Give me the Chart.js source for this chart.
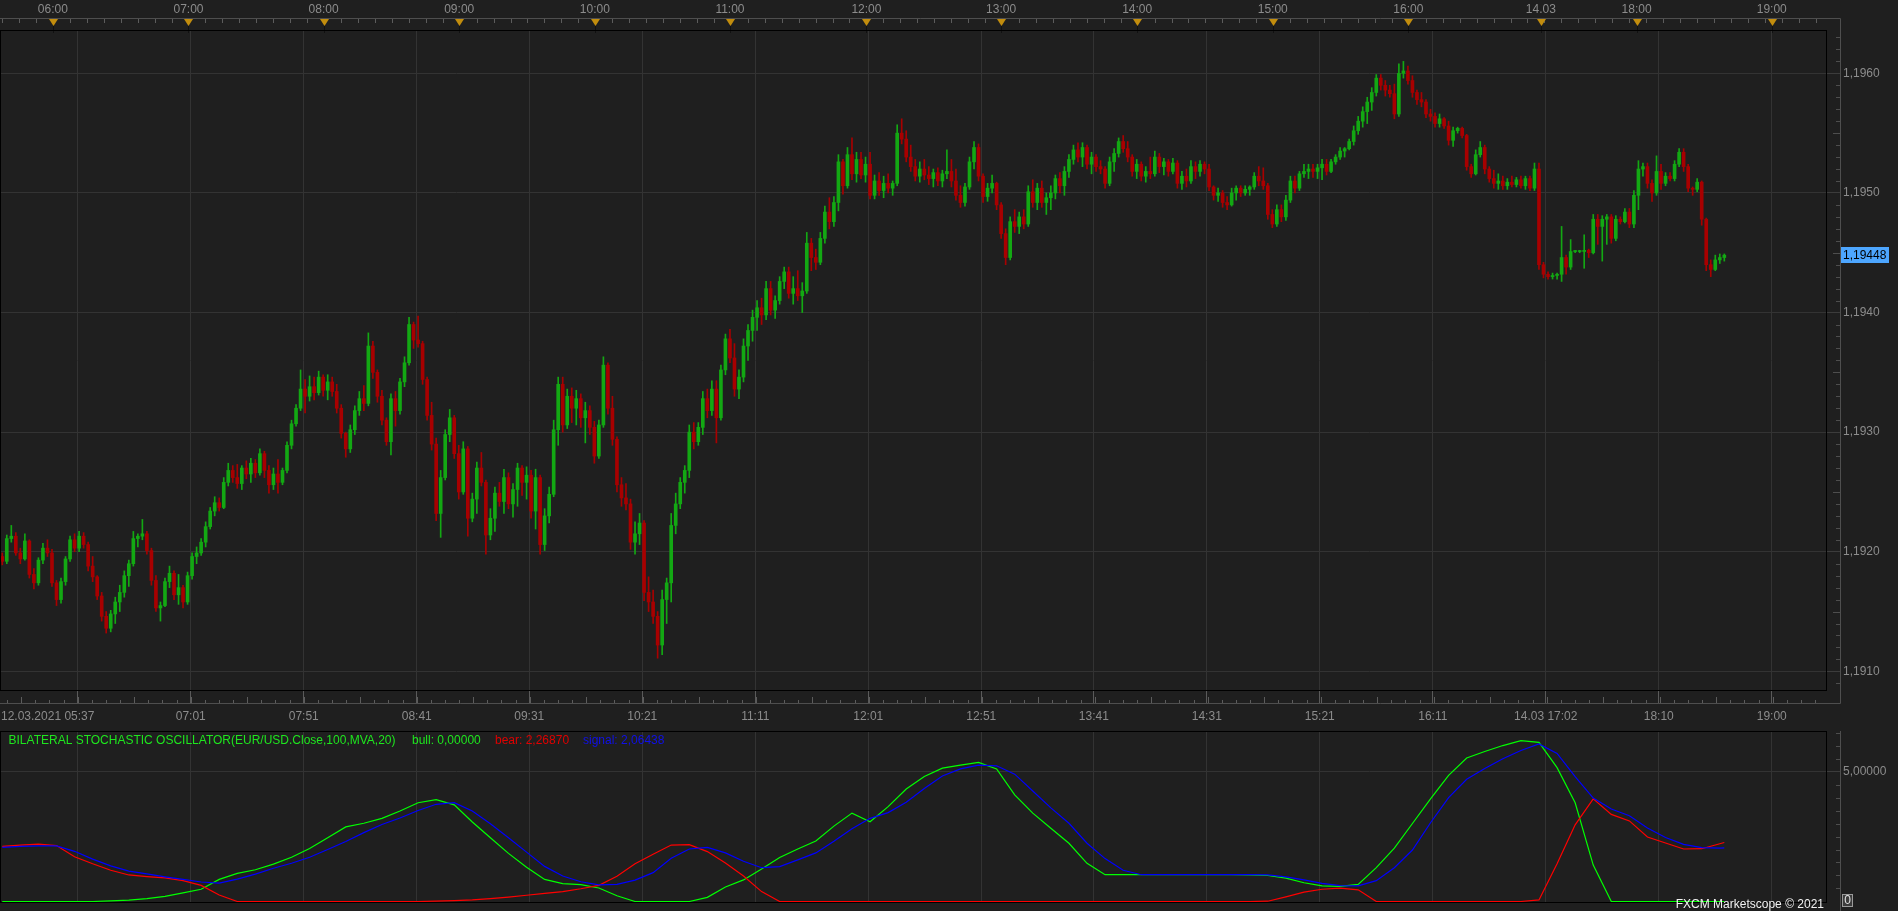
<!DOCTYPE html>
<html>
<head>
<meta charset="utf-8">
<title>EUR/USD - Bilateral Stochastic Oscillator</title>
<script src="https://cdn.jsdelivr.net/npm/chart.js@4.4.1/dist/chart.umd.min.js"></script>
<style>
  html, body { margin: 0; padding: 0; background: #1f1f1f; overflow: hidden; }
  #wrap { position: relative; width: 1898px; height: 911px; }
  #priceChart { position: absolute; left: 0; top: 0; }
  #oscChart { position: absolute; left: 0; top: 731px; }
</style>
</head>
<body>
<div id="wrap">
  <canvas id="priceChart" width="1898" height="731"></canvas>
  <canvas id="oscChart" width="1898" height="180"></canvas>
</div>
<script>
'use strict'
//////////////////
// Data
//////////////////
// EUR/USD candles (2 min each), values in points above 1,19000
const opens = [
  196,192,211,213,199,194,209,181,174,193, 203,199,174,160,175,194,210,203,213,206,
  188,179,163,146,136,148,158,166,180,190, 211,213,215,201,176,153,155,175,182,164,
  170,158,180,196,199,208,221,234,241,237, 258,268,262,257,270,265,274,266,282,268,
  256,265,258,268,289,307,320,336,330,338, 333,346,335,342,334,320,299,286,302,318,
  328,324,372,350,330,310,292,328,318,342, 358,390,377,374,344,314,290,232,262,298,
  312,282,250,286,228,244,270,258,214,228, 249,242,262,240,252,270,258,264,234,262,
  206,230,248,302,340,306,330,320,328,312, 318,304,280,306,356,320,294,256,245,240,
  208,215,224,166,158,146,122,160,174,222, 240,258,268,300,292,304,328,318,336,312,
  352,378,362,336,346,372,385,396,404,398, 420,402,410,426,434,416,420,414,418,458,
  446,442,462,484,476,492,526,506,532,516, 528,515,524,498,510,502,508,504,508,550,
  545,530,522,514,520,515,512,517,510,516, 518,510,498,492,505,526,538,514,497,504,
  508,490,466,446,476,472,480,474,501,492, 504,492,496,500,512,506,518,528,536,530,
  538,524,530,522,520,508,526,533,543,537, 530,518,524,514,518,516,530,522,526,518,
  525,508,514,510,522,518,524,520,505,498, 500,492,490,500,504,500,503,505,514,510,
  506,482,474,486,480,494,510,504,516,518, 520,518,521,524,518,526,530,535,537,543,
  552,560,568,576,584,596,590,586,583,566, 600,602,594,584,578,576,566,564,558,562,
  556,544,552,554,548,522,516,532,538,520, 512,508,510,506,509,507,511,506,512,504,
  520,440,432,430,431,432,446,438,451,451, 451,452,450,478,472,478,480,462,478,476,
  484,474,498,520,522,508,500,518,508,514, 512,524,534,522,504,503,509,478,440,436,
  444,446
];
const highs = [
  199,214,222,216,203,215,210,186,195,207, 210,202,176,178,196,213,215,217,216,208,
  196,180,166,150,151,162,172,184,193,217, 215,227,217,203,180,158,178,188,184,181,
  172,183,199,204,211,225,237,246,245,262, 274,272,273,272,276,278,277,286,284,272,
  270,277,270,292,310,323,352,344,347,346, 351,348,348,346,340,323,300,306,322,334,
  339,383,376,352,335,312,332,334,345,363, 396,392,397,376,346,325,295,268,302,319,
  314,289,292,288,249,275,283,260,236,254, 258,269,266,257,274,272,271,268,269,264,
  236,254,310,346,346,336,337,335,332,325, 322,309,310,363,358,330,296,262,257,244,
  225,232,226,179,168,150,168,178,232,249, 262,272,306,308,308,334,336,343,343,356,
  382,386,374,352,378,390,402,410,412,426, 426,414,430,438,438,430,435,425,467,462,
  453,467,489,496,497,532,528,538,546,534, 534,530,534,515,517,514,516,510,557,562,
  552,540,528,526,528,522,520,521,519,536, 528,520,506,508,530,543,541,516,508,515,
  509,492,470,480,486,484,486,506,511,508, 510,500,506,515,517,522,532,540,542,542,
  540,534,532,527,522,530,537,546,548,543, 532,528,526,522,530,535,533,529,528,529,
  527,518,520,527,526,527,526,524,506,504, 502,497,504,506,506,506,506,517,522,521,
  508,486,490,490,498,514,514,518,524,524, 524,524,528,528,528,532,538,538,545,556,
  564,572,580,588,599,599,594,590,591,608, 610,606,598,586,584,578,570,567,566,563,
  560,555,555,555,549,524,536,543,540,522, 519,516,514,512,514,513,514,514,514,525,
  525,442,434,433,433,472,448,461,452,452, 465,453,482,482,481,482,482,481,480,487,
  487,502,527,525,525,511,531,524,517,517, 527,537,537,524,505,512,510,479,444,448,
  449,449
];
const lows = [
  189,190,208,197,190,193,178,169,172,190, 196,171,155,157,172,192,200,200,203,184,
  175,160,142,132,133,140,150,162,171,188, 204,210,198,172,150,142,154,170,160,156,
  153,156,177,190,197,204,219,230,234,236, 255,258,253,252,261,258,262,264,262,249,
  252,249,256,266,286,305,318,316,326,327, 331,330,327,330,316,295,279,283,298,314,
  318,322,345,325,306,289,281,305,315,338, 356,370,371,340,310,285,226,212,260,292,
  278,244,248,213,225,232,255,198,210,217, 238,232,236,229,238,247,244,228,219,198,
  201,224,246,289,300,303,308,306,304,291, 298,274,278,304,315,289,250,238,235,202,
  198,206,159,150,140,111,114,140,158,215, 236,249,262,286,289,298,312,314,291,310,
  348,358,330,328,342,360,376,385,390,394, 398,395,407,420,412,407,410,400,416,435,
  436,440,458,470,472,485,499,504,511,509, 512,509,495,495,498,496,500,498,506,541,
  526,518,510,509,511,507,505,506,505,512, 505,494,488,489,503,520,510,492,493,500,
  486,462,440,444,467,466,470,472,488,486, 488,482,486,495,500,498,513,524,526,522,
  520,516,518,516,504,506,518,530,534,526, 514,512,510,509,512,514,517,515,514,516,
  504,503,505,508,512,514,516,502,494,493, 488,486,489,494,497,498,498,503,506,503,
  478,471,472,476,477,492,500,502,513,512, 513,512,511,515,517,524,528,530,536,540,
  549,555,558,569,581,586,581,580,562,564, 596,591,580,574,572,563,560,555,555,554,
  540,539,550,546,519,513,515,530,516,509, 504,503,503,503,505,505,504,503,502,502,
  436,429,428,428,428,426,432,436,450,450, 437,446,449,457,443,457,458,460,474,475,
  471,471,486,514,504,493,498,503,506,510, 510,522,518,501,498,501,473,435,430,435,
  441,443
];
const closes = [
  192,211,213,199,194,209,181,174,193,203, 199,174,160,175,194,210,203,213,206,188,
  179,163,146,136,148,158,166,180,190,211, 213,215,201,176,153,155,175,182,164,170,
  158,180,196,199,208,221,234,241,237,258, 268,262,257,270,265,274,266,282,268,256,
  265,258,268,289,307,320,336,330,338,333, 346,335,342,334,320,299,286,302,318,328,
  324,372,350,330,310,292,328,318,342,358, 390,377,374,344,314,290,232,262,298,312,
  282,250,286,228,244,270,258,214,228,249, 242,262,240,252,270,258,264,234,262,206,
  230,248,302,340,306,330,320,328,312,318, 304,280,306,356,320,294,256,245,240,208,
  215,224,166,158,146,122,160,174,222,240, 258,268,300,292,304,328,318,336,312,352,
  378,362,336,346,372,385,396,404,398,420, 402,410,426,434,416,420,414,418,458,446,
  442,462,484,476,492,526,506,532,516,528, 515,524,498,510,502,508,504,508,550,545,
  530,522,514,520,515,512,517,510,516,518, 510,498,492,505,526,538,514,497,504,508,
  490,466,446,476,472,480,474,501,492,504, 492,496,500,512,506,518,528,536,530,538,
  524,530,522,520,508,526,533,543,537,530, 518,524,514,518,516,530,522,526,518,525,
  508,514,510,522,518,524,520,505,498,500, 492,490,500,504,500,503,505,514,510,506,
  482,474,486,480,494,510,504,516,518,520, 518,521,524,518,526,530,535,537,543,552,
  560,568,576,584,596,590,586,583,566,600, 602,594,584,578,576,566,564,558,562,556,
  544,552,554,548,522,516,532,538,520,512, 508,510,506,509,507,511,506,512,504,520,
  440,432,430,431,432,446,438,451,451,451, 452,450,478,472,478,480,462,478,476,484,
  474,498,520,522,508,500,518,508,514,512, 524,534,522,504,503,509,478,440,436,444,
  446,448
];

// time axes, in candle units
const gridPos = [16.7,41.7,66.7,91.7,116.6,141.6,166.6,191.6,216.6,241.5,266.5,291.5,316.5,341.5,366.5,391.5];
const gridLabels = ['','07:01','07:51','08:41','09:31','10:21','11:11','12:01','12:51','13:41','14:31','15:21','16:11','14.03 17:02','18:10','19:00'];
const hourPos = [11.2,41.2,71.1,101.1,131.1,161.0,191.2,221.0,251.1,281.1,311.1,340.4,361.6,391.5];
const hourLabels = ['06:00','07:00','08:00','09:00','10:00','11:00','12:00','13:00','14:00','15:00','16:00','14.03','18:00','19:00'];
const priceTicks = [1.191,1.192,1.193,1.194,1.195,1.196];
const firstTime = '12.03.2021 05:37';

// BILATERAL STOCHASTIC OSCILLATOR, sampled every 4 candles
const oscX = [
  0,4,8,12,16,20,24,28,32,36, 40,44,48,52,56,60,64,68,72,76,
  80,84,88,92,96,100,104,108,112,116, 120,124,128,132,136,140,144,148,152,156,
  160,164,168,172,176,180,184,188,192,196, 200,204,208,212,216,220,224,228,232,236,
  240,244,248,252,256,260,264,268,272,276, 280,284,288,292,296,300,304,308,312,316,
  320,324,328,332,336,340,344,348,352,356, 360,364,368,372,376,380,381
];
const bull = [
  0,0,0,0,0,0,0.02,0.05,0.11,0.2, 0.33,0.47,0.85,1.08,1.22,1.44,1.7,2.04,2.45,2.87,
  3.01,3.2,3.48,3.8,3.92,3.72,3.06,2.45,1.85,1.32, 0.85,0.69,0.65,0.52,0.22,0,0,0,0,0.16,
  0.56,0.83,1.25,1.69,2.02,2.33,2.9,3.4,3.07,3.65, 4.33,4.81,5.13,5.25,5.35,5.1,4.1,3.4,2.82,2.24,
  1.47,1.03,1.03,1.03,1.03,1.03,1.03,1.03,1.03,1.02, 1.0,0.9,0.72,0.6,0.58,0.66,1.3,2.05,3.0,3.95,
  4.85,5.52,5.77,6.0,6.19,6.12,5.15,3.8,1.4,0, 0,0,0,0,0,0,0
];
const bear = [
  2.12,2.17,2.21,2.15,1.72,1.45,1.2,1.02,0.96,0.91, 0.8,0.62,0.25,0,0,0,0,0,0,0,
  0,0,0,0,0.01,0.03,0.06,0.11,0.17,0.24, 0.31,0.38,0.49,0.62,0.97,1.45,1.82,2.17,2.19,1.92,
  1.48,0.98,0.38,0,0,0,0,0,0,0, 0,0,0,0,0,0,0,0,0,0,
  0,0,0,0,0,0,0,0,0,0, 0.01,0.18,0.36,0.47,0.51,0.45,0,0,0,0,
  0,0,0,0,0,0.06,1.45,2.95,3.95,3.35, 3.1,2.48,2.25,2.02,2.03,2.22,2.27
];
const signal = [
  2.08,2.12,2.14,2.14,1.93,1.63,1.37,1.17,1.06,0.95, 0.85,0.75,0.71,0.86,1.05,1.28,1.47,1.7,2.0,2.31,
  2.65,2.96,3.21,3.5,3.74,3.8,3.48,2.99,2.45,1.9, 1.35,0.98,0.76,0.64,0.66,0.82,1.11,1.66,2.02,2.08,
  1.87,1.55,1.3,1.34,1.6,1.87,2.32,2.8,3.2,3.42, 3.82,4.35,4.83,5.1,5.25,5.22,4.9,4.25,3.6,3.01,
  2.24,1.65,1.2,1.03,1.03,1.03,1.03,1.03,1.03,1.03, 1.02,0.95,0.83,0.7,0.61,0.6,0.8,1.3,1.98,3.03,
  4.0,4.7,5.12,5.49,5.81,6.06,5.7,4.8,3.98,3.56, 3.3,2.83,2.46,2.2,2.07,2.05,2.06
];
// values shown in the indicator legend: bull, bear, signal
const legendValues = [0, 2.26870, 2.06438];
const oscTicks = [5];
const oscTitle = 'BILATERAL STOCHASTIC OSCILLATOR(EUR/USD.Close,100,MVA,20)';

//////////////////
// Styles
//////////////////
const FONT = "'Liberation Sans', Arial, sans-serif";
const TXT = '#8c8c8c';
const GRID = '#333333';
const UP = '#13a813';
const DOWN = '#a80000';
const BULL = '#00ff00';
const BEAR = '#ff0000';
const SIGNAL = '#0000ff';
const X_MIN = -0.5;
const X_MAX = 403.5;

Chart.defaults.font.family = FONT;
Chart.defaults.font.size = 12;

function toPrice(v) {
  return +(1.19 + v / 100000).toFixed(5);
}
function fmt(v, d) {
  return v.toFixed(d).replace('.', ',');
}
// fixed axis size, no extra room for the edge labels
function fixSize(w, h) {
  return s => {
    if (w !== null) s.width = w;
    if (h !== null) s.height = h;
    s.paddingTop = 0; s.paddingBottom = 0; s.paddingLeft = 0; s.paddingRight = 0;
  };
}

//////////////////
// Price panel
//////////////////
const candleColors = closes.map((c, i) => (c >= opens[i] ? UP : DOWN));
const wickData = closes.map((c, i) => ({ x: i, y: [toPrice(lows[i]), toPrice(highs[i])] }));
const bodyData = closes.map((c, i) => ({ x: i, y: [toPrice(opens[i]), toPrice(c)] }));

const priceFrame = {
  id: 'priceFrame',
  afterDraw(chart) {
    const ctx = chart.ctx;
    const xs = chart.scales.x;
    const ys = chart.scales.y;
    ctx.save();
    ctx.lineWidth = 1;

    // panel frame
    ctx.strokeStyle = '#4e4e4e';
    ctx.beginPath();
    ctx.moveTo(0, 18.5); ctx.lineTo(1840.5, 18.5); ctx.lineTo(1840.5, 703.5); ctx.lineTo(0, 703.5);
    ctx.stroke();

    // small ticks on both time strips
    ctx.strokeStyle = '#5c5c5c';
    ctx.beginPath();
    for (let v = hourPos[0] - 3.75 * 3; v < X_MAX; v += 3.75) {
      const px = Math.round(xs.getPixelForValue(v)) + 0.5;
      if (px < 1 || px > 1825) continue;
      ctx.moveTo(px, 19); ctx.lineTo(px, 23);
    }
    let n = 0;
    for (let v = gridPos[0] - 3.125 * 5; v < X_MAX; v += 3.125, n++) {
      const px = Math.round(xs.getPixelForValue(v)) + 0.5;
      if (px < 1 || px > 1825) continue;
      const len = (n % 4 === 1) ? 6 : 3;
      ctx.moveTo(px, 703 - len); ctx.lineTo(px, 703);
    }
    ctx.stroke();

    // hour markers
    hourPos.forEach(v => {
      const px = Math.round(xs.getPixelForValue(v));
      ctx.strokeStyle = '#111';
      ctx.beginPath(); ctx.moveTo(px + 0.5, 25); ctx.lineTo(px + 0.5, 33); ctx.stroke();
      ctx.fillStyle = '#c28d0e';
      ctx.beginPath();
      ctx.moveTo(px - 4, 19); ctx.lineTo(px + 5, 19); ctx.lineTo(px + 0.5, 26);
      ctx.closePath(); ctx.fill();
    });

    // minor price ticks
    ctx.strokeStyle = '#4e4e4e';
    ctx.beginPath();
    for (let k = 11909; k <= 11963; k++) {
      if (k % 10 === 0) continue;
      const py = Math.round(ys.getPixelForValue(k / 10000)) + 0.5;
      const len = (k % 5 === 0) ? 7 : 4;
      ctx.moveTo(1840 - len, py); ctx.lineTo(1840, py);
    }
    ctx.stroke();

    // plot border
    ctx.strokeStyle = '#000';
    ctx.strokeRect(0.5, 30.5, 1826, 660);

    // last price box
    const last = toPrice(closes[closes.length - 1]);
    const ly = Math.round(ys.getPixelForValue(last));
    ctx.fillStyle = '#4da6ff';
    ctx.fillRect(1841, ly - 8, 48, 16);
    ctx.fillStyle = '#000';
    ctx.font = '12px ' + FONT;
    ctx.textAlign = 'left';
    ctx.textBaseline = 'middle';
    ctx.fillText(fmt(last, 5), 1843, ly + 0.5);

    // first time label
    ctx.fillStyle = TXT;
    ctx.fillText(firstTime, 1, 717);
    ctx.restore();
  }
};

new Chart(document.getElementById('priceChart'), {
  type: 'bar',
  data: {
    datasets: [
      {
        label: 'wick', data: wickData, backgroundColor: candleColors,
        grouped: false, barThickness: 1, maxBarThickness: 1, borderWidth: 0, order: 1
      },
      {
        label: 'body', data: bodyData, backgroundColor: candleColors,
        grouped: false, barThickness: 3, maxBarThickness: 3, minBarLength: 1, borderWidth: 0, order: 0
      }
    ]
  },
  options: {
    responsive: false,
    animation: false,
    devicePixelRatio: 1,
    events: [],
    layout: { padding: 0 },
    plugins: { legend: { display: false }, tooltip: { enabled: false } },
    scales: {
      x: {
        type: 'linear', position: 'bottom', min: X_MIN, max: X_MAX, offset: false,
        afterFit: fixSize(null, 41),
        afterBuildTicks: s => { s.ticks = gridPos.map(v => ({ value: v })); },
        grid: { color: GRID, offset: false, tickColor: '#5a5a5a', tickLength: 13 },
        border: { display: false },
        ticks: {
          color: TXT, padding: 6.5, maxRotation: 0, autoSkip: false,
          callback: (v, i) => gridLabels[i]
        }
      },
      xTop: {
        type: 'linear', axis: 'x', position: 'top', min: X_MIN, max: X_MAX, offset: false,
        afterFit: fixSize(null, 31),
        afterBuildTicks: s => { s.ticks = hourPos.map(v => ({ value: v })); },
        grid: { display: false },
        border: { display: false },
        ticks: {
          color: TXT, padding: 6, maxRotation: 0, autoSkip: false,
          callback: (v, i) => hourLabels[i]
        }
      },
      y: {
        type: 'linear', position: 'right', min: 1.190844, max: 1.196354,
        afterFit: fixSize(72, null),
        afterBuildTicks: s => { s.ticks = priceTicks.map(v => ({ value: v })); },
        grid: { color: GRID, tickColor: '#3c3c3c', tickLength: 14 },
        border: { display: false },
        ticks: { color: TXT, padding: 3, autoSkip: false, callback: v => fmt(v, 4) }
      }
    }
  },
  plugins: [priceFrame]
});

//////////////////
// Oscillator panel
//////////////////
const oscFrame = {
  id: 'oscFrame',
  afterDraw(chart) {
    const ctx = chart.ctx;
    const ys = chart.scales.y;
    const area = chart.chartArea;
    ctx.save();
    ctx.lineWidth = 1;

    ctx.strokeStyle = '#4e4e4e';
    ctx.beginPath();
    ctx.moveTo(1840.5, 0); ctx.lineTo(1840.5, 180);
    for (let k = 1; k <= 13; k++) {
      if (k === 10) continue;
      const py = Math.round(ys.getPixelForValue(k / 2)) + 0.5;
      ctx.moveTo(1836, py); ctx.lineTo(1840, py);
    }
    ctx.stroke();

    ctx.strokeStyle = '#000';
    ctx.strokeRect(0.5, 0.5, 1826, area.bottom);

    // legend line
    ctx.font = '12px ' + FONT;
    ctx.textAlign = 'left';
    ctx.textBaseline = 'alphabetic';
    ctx.fillStyle = '#1ee61e';
    ctx.fillText(oscTitle, 8.5, 13);
    ctx.fillText('bull: ' + fmt(legendValues[0], 5), 412, 13);
    ctx.fillStyle = '#e00000';
    ctx.fillText('bear: ' + fmt(legendValues[1], 5), 495, 13);
    ctx.fillStyle = '#1010e8';
    ctx.fillText('signal: ' + fmt(legendValues[2], 5), 583, 13);

    // last bull value box
    const vy = Math.round(ys.getPixelForValue(bull[bull.length - 1]));
    ctx.fillStyle = '#3c3c3c';
    ctx.fillRect(1842.5, vy - 6.5, 10, 12);
    ctx.strokeStyle = '#9a9a9a';
    ctx.strokeRect(1842.5, vy - 6.5, 10, 12);
    ctx.fillStyle = '#e0e0e0';
    ctx.textAlign = 'center';
    ctx.textBaseline = 'middle';
    ctx.fillText('0', 1847.5, vy);

    ctx.fillStyle = '#f2f2f2';
    ctx.textAlign = 'right';
    ctx.textBaseline = 'alphabetic';
    ctx.fillText('FXCM Marketscope \u00a9 2021', 1824, 176.5);
    ctx.restore();
  }
};

function oscSeries(values) {
  return oscX.map((x, i) => ({ x: x, y: values[i] }));
}

new Chart(document.getElementById('oscChart'), {
  type: 'line',
  data: {
    datasets: [
      { label: 'signal', data: oscSeries(signal), borderColor: SIGNAL, borderWidth: 1.2, pointRadius: 0, order: 0 },
      { label: 'bear', data: oscSeries(bear), borderColor: BEAR, borderWidth: 1.2, pointRadius: 0, order: 1 },
      { label: 'bull', data: oscSeries(bull), borderColor: BULL, borderWidth: 1.2, pointRadius: 0, order: 2 }
    ]
  },
  options: {
    responsive: false,
    animation: false,
    devicePixelRatio: 1,
    events: [],
    layout: { padding: 0 },
    plugins: { legend: { display: false }, tooltip: { enabled: false } },
    scales: {
      x: {
        type: 'linear', position: 'bottom', min: X_MIN, max: X_MAX,
        afterFit: fixSize(null, 9),
        afterBuildTicks: s => { s.ticks = gridPos.map(v => ({ value: v })); },
        grid: { color: GRID, drawTicks: false },
        border: { display: false },
        ticks: { display: false }
      },
      y: {
        type: 'linear', position: 'right', min: -0.02, max: 6.56,
        afterFit: fixSize(72, null),
        afterBuildTicks: s => { s.ticks = oscTicks.map(v => ({ value: v })); },
        grid: { color: GRID, tickColor: '#3c3c3c', tickLength: 14 },
        border: { display: false },
        ticks: { color: TXT, padding: 3, autoSkip: false, callback: v => fmt(v, 5) }
      }
    }
  },
  plugins: [oscFrame]
});
</script>
</body>
</html>
